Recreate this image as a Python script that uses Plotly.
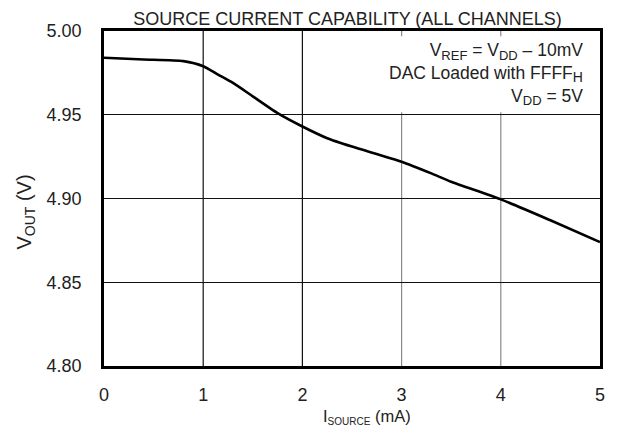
import plotly.graph_objects as go

i_source = [0, 0.4, 0.8, 1.0, 1.15, 1.3, 1.5, 1.75, 2.0, 2.25, 2.5, 3.0, 3.3, 3.5, 4.0, 4.5, 5.0]
v_out = [4.984, 4.983, 4.982, 4.979, 4.974, 4.969, 4.961, 4.951, 4.943, 4.936, 4.931, 4.922,
         4.915, 4.910, 4.8995, 4.887, 4.874]

x_ticks = [0, 1, 2, 3, 4, 5]
y_ticks = [4.80, 4.85, 4.90, 4.95, 5.00]
y_tick_labels = ["4.80", "4.85", "4.90", "4.95", "5.00"]
vgrid_vals = [1, 2, 3, 4]
vgrid_colors = ["#111111", "#111111", "#8a8a8a", "#8a8a8a"]

FONT = "Liberation Sans, Arial, sans-serif"
TXT = "#222222"
FS = 18


def sub(t, px):
    return f'<sub><span style="font-size:{px}px">{t}</span></sub>'


fig = go.Figure()
fig.add_trace(go.Scatter(x=i_source, y=v_out, mode="lines",
                         line=dict(color="black", width=2.6, shape="spline", smoothing=0.6),
                         hoverinfo="skip", showlegend=False))

shapes = []
for v, c in zip(vgrid_vals, vgrid_colors):
    shapes.append(dict(type="line", xref="x", yref="paper", x0=v, x1=v, y0=0, y1=1,
                       line=dict(color=c, width=1.2), layer="below"))
# white box behind the annotation text
shapes.append(dict(type="rect", xref="x", yref="y", x0=2.75, x1=5.0, y0=4.9515, y1=4.9968,
                   fillcolor="white", line=dict(width=0), layer="below"))
fig.update_layout(shapes=shapes)

ann_text = "<br>".join([f"V{sub('REF', 13)} = V{sub('DD', 13)} – 10mV",
                        f"DAC Loaded with FFFF{sub('H', 14)}",
                        f"V{sub('DD', 13)} = 5V"])
fig.add_annotation(text=ann_text, xref="paper", yref="paper", x=0.97, y=0.872,
                   xanchor="right", yanchor="middle", align="right", showarrow=False,
                   font=dict(family=FONT, size=17.5, color=TXT))

# axis titles
fig.add_annotation(text=f"I{sub('SOURCE', 10)} (mA)", xref="paper", yref="paper",
                   x=0.531, y=-0.152, xanchor="center", yanchor="middle", showarrow=False,
                   font=dict(family=FONT, size=16.5, color=TXT))
fig.add_annotation(text=f"V{sub('OUT', 14)} (V)", xref="paper", yref="paper",
                   x=-0.158, y=0.46, xanchor="center", yanchor="middle", showarrow=False,
                   textangle=-90, font=dict(family=FONT, size=20, color=TXT))

fig.update_layout(
    width=617, height=438,
    margin=dict(l=104, r=17, t=31, b=72),
    paper_bgcolor="white", plot_bgcolor="white",
    title=dict(text="SOURCE CURRENT CAPABILITY (ALL CHANNELS)", xref="paper", x=0.491,
               xanchor="center", y=1 - 19 / 438, yanchor="middle",
               font=dict(family=FONT, size=FS, color=TXT)),
    xaxis=dict(range=[0, 5], tickvals=x_ticks, showgrid=False, zeroline=False,
               showline=True, mirror=True, linecolor="black", linewidth=2.6,
               ticks="", ticklabelstandoff=11, automargin=False,
               tickfont=dict(family=FONT, size=FS, color=TXT)),
    yaxis=dict(range=[4.80, 5.00], tickvals=y_ticks, ticktext=y_tick_labels,
               showgrid=True, gridcolor="#111111", gridwidth=1.2, zeroline=False,
               showline=True, mirror=True, linecolor="black", linewidth=2.6,
               ticks="", ticklabelstandoff=16, automargin=False,
               tickfont=dict(family=FONT, size=FS, color=TXT)),
)

fig.write_html("out.html", config={"displayModeBar": False},
               post_script="document.body.style.margin='0';")
